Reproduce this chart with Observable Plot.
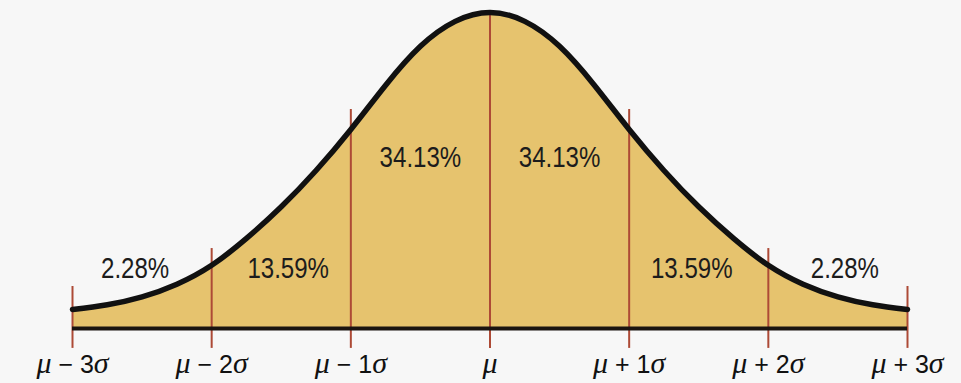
<!DOCTYPE html>
<html><head><meta charset="utf-8">
<script src="https://cdn.jsdelivr.net/npm/d3@7"></script>
<script src="https://cdn.jsdelivr.net/npm/@observablehq/plot@0.6"></script>
<style>html,body{margin:0;padding:0;background:#f7f7f7;}</style>
</head><body><div id="chart"></div>
<script>
// curve (height relative to the peak), z in units of sigma
const zValues = [-3,-2.75,-2.5,-2.25,-2,-1.75,-1.5,-1.25,-1,-0.75,-0.5,-0.25,0,0.25,0.5,0.75,1,1.25,1.5,1.75,2,2.25,2.5,2.75,3];
const densityValues = [0.06,0.075,0.1,0.14,0.2,0.285,0.385,0.5,0.63,0.77,0.893,0.972,1.0,0.972,0.893,0.77,0.63,0.5,0.385,0.285,0.2,0.14,0.1,0.075,0.06];
const sigmaTicks = [-3,-2,-1,0,1,2,3];
const tickLabels = ["μ − 3σ","μ − 2σ","μ − 1σ","μ","μ + 1σ","μ + 2σ","μ + 3σ"];
const lineTops = [0.133,0.253,0.693,1.0,0.693,0.253,0.133];
const lineBottoms = [-0.063,-0.063,-0.063,-0.063,-0.063,-0.063,-0.063];
const pctLabels = ["2.28%","13.59%","34.13%","34.13%","13.59%","2.28%"];
const pctX = [-2.55,-1.45,-0.5,0.5,1.45,2.55];
const pctY = [0.19,0.19,0.54,0.54,0.19,0.19];

const curve = zValues.map((z,i)=>({z, d: densityValues[i]}));
const rules = sigmaTicks.map((z,i)=>({z, top: lineTops[i], bottom: lineBottoms[i]}));
const labels = pctLabels.map((t,i)=>({t, x: pctX[i], y: pctY[i]}));

const svg = Plot.plot({
  width: 961, height: 383,
  marginLeft: 72, marginRight: 54, marginTop: 12, marginBottom: 55,
  style: {background: "#f7f7f7", overflow: "visible"},
  x: {domain: [-3, 3]},
  y: {domain: [0, 1], axis: null},
  marks: [
    Plot.areaY(curve, {x: "z", y: "d", fill: "#e6c36e", curve: "natural"}),
    Plot.ruleX(rules, {x: "z", y1: "bottom", y2: "top", stroke: "#ad4a36", strokeWidth: 2}),
    Plot.lineY(curve, {x: "z", y: "d", stroke: "#111", strokeWidth: 5.5, curve: "natural"}),
    Plot.ruleY([0], {x1: -3, x2: 3, stroke: "#1a1410", strokeWidth: 4}),
    Plot.text(labels, {x: "x", y: "y", text: "t", fontSize: 29, fill: "#1c1c1c",
      fontFamily: "'Liberation Sans', Arial, sans-serif"}),
    Plot.axisX(sigmaTicks, {tickSize: 0, tickPadding: 27, fontSize: 25, fill: "#111",
      tickFormat: d => tickLabels[sigmaTicks.indexOf(d)]})
  ]
});
document.getElementById("chart").appendChild(svg);

// condense the percentage labels (the original uses a narrow sans face)
d3.select(svg).selectAll('g[aria-label="text"] text').each(function() {
  const w = this.getComputedTextLength();
  this.setAttribute("textLength", (w * 0.83).toFixed(1));
  this.setAttribute("lengthAdjust", "spacingAndGlyphs");
});

// style tick labels: Greek letters in italic serif, operators and digits upright sans
d3.select(svg).selectAll('g[aria-label="x-axis tick label"] text').each(function() {
  const t = this.textContent;
  const sel = d3.select(this);
  sel.text(null);
  const m = t.match(/^(μ)(.*?)(σ?)$/);
  const serif = "'Liberation Serif', 'DejaVu Serif', serif";
  sel.append("tspan").attr("font-family", serif).attr("font-style", "italic").attr("font-size", 30).text(m[1]);
  if (m[2]) sel.append("tspan").attr("font-family", "'Liberation Sans', Arial, sans-serif").attr("font-size", 25).text(m[2]);
  if (m[3]) sel.append("tspan").attr("font-family", serif).attr("font-style", "italic").attr("font-size", 30).text(m[3]);
});
</script>
</body></html>
